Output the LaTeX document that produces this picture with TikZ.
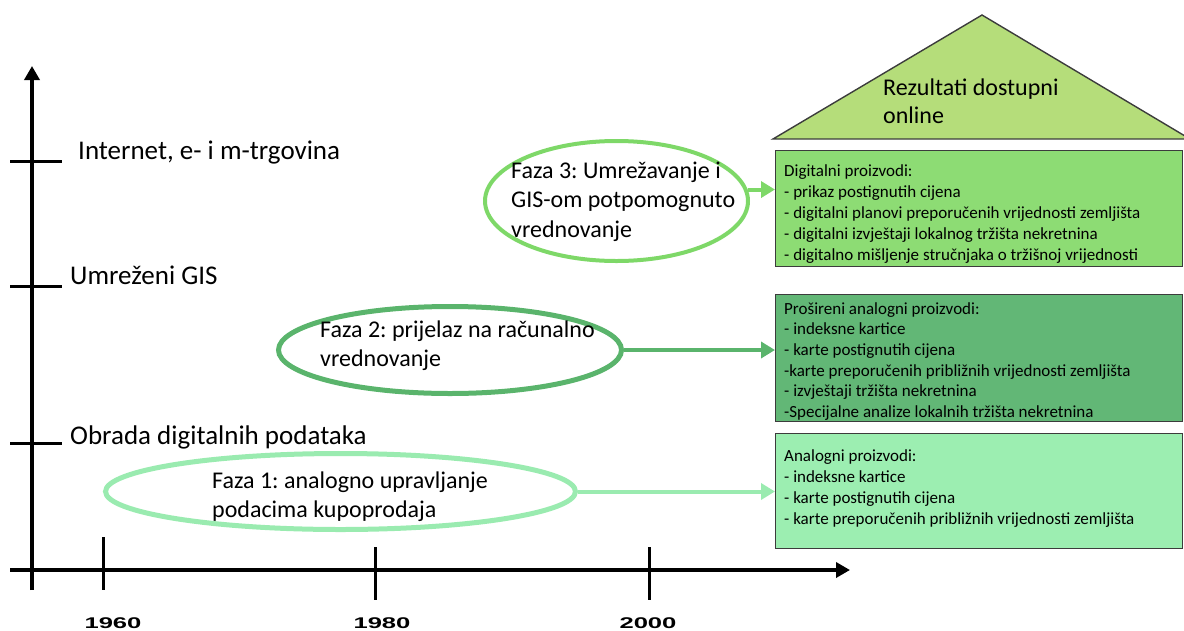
\documentclass[tikz,border=0pt]{standalone}
\usepackage{fontspec}
\setmainfont{Carlito}
\newfontfamily\yearfont{Liberation Sans}
\usetikzlibrary{shapes.geometric,arrows.meta}
\definecolor{roofgreen}{RGB}{181,221,122}
\definecolor{digigreen}{RGB}{141,220,116}
\definecolor{extgreen}{RGB}{98,183,118}
\definecolor{anagreen}{RGB}{156,238,177}
\definecolor{ringthree}{RGB}{126,216,104}
\definecolor{ringtwo}{RGB}{90,180,108}
\definecolor{ringone}{RGB}{154,235,176}
\definecolor{edgegray}{RGB}{60,60,60}
\frenchspacing

\begin{document}
% multi-line labels are placed by the baseline of their last line
\begin{tikzpicture}[x=1pt,y=-1pt,
  axis/.style={line width=4.5pt, -{Triangle[length=14pt,width=15pt]}},
  tick/.style={line width=3pt},
  levellabel/.style={anchor=base west, inner sep=0pt, font=\fontsize{27}{32}\selectfont},
  yearlabel/.style={anchor=base, inner sep=0pt, font=\yearfont\bfseries\fontsize{15.5}{18}\selectfont},
  phase/.style={ellipse, draw, inner sep=0pt},
  phasetext/.style={anchor=base west, inner sep=0pt, align=left, font=\fontsize{24}{29}\selectfont},
  product/.style={rectangle, draw=edgegray, line width=1.4pt, anchor=north west, minimum width=407pt, inner sep=0pt},
  producttext/.style={anchor=base west, inner sep=0pt, align=left, font=\fontsize{17}{21}\selectfont},
  feed/.style={line width=4pt, -{Triangle[length=14pt,width=16pt]}}
]
\useasboundingbox (0,0) rectangle (1184,630);

% roof over the product boxes
\coordinate (roofL) at (773,139);
\coordinate (roofT) at (982,15);
\coordinate (roofR) at (1190,139);
\filldraw[fill=roofgreen, draw=edgegray, line width=1.4pt] (roofL) -- (roofT) -- (roofR) -- cycle;
\node[phasetext, font=\fontsize{24}{28}\selectfont] (rooftext) at (883,123) {Rezultati dostupni\\online};

% product boxes
\node[product, fill=digigreen, minimum height=116pt] (b1) at (775,150) {};
\node[product, fill=extgreen, minimum height=127pt] (b2) at (775,294) {};
\node[product, fill=anagreen, minimum height=115pt] (b3) at (775,433) {};

\node[producttext] (t1) at (784,260) {Digitalni proizvodi:\\- prikaz postignutih cijena\\- digitalni planovi preporučenih vrijednosti zemljišta\\- digitalni izvještaji lokalnog tržišta nekretnina\\- digitalno mišljenje stručnjaka o tržišnoj vrijednosti};
\node[producttext, font=\fontsize{17}{20.7}\selectfont] (t2) at (784,417.5) {Prošireni analogni proizvodi:\\- indeksne kartice\\- karte postignutih cijena\\-karte preporučenih približnih vrijednosti zemljišta\\- izvještaji tržišta nekretnina\\-Specijalne analize lokalnih tržišta nekretnina};
\node[producttext] (t3) at (784,524) {Analogni proizvodi:\\- indeksne kartice\\- karte postignutih cijena\\- karte preporučenih približnih vrijednosti zemljišta};

% phases
\node[phase, draw=ringthree, line width=4pt, minimum width=263pt, minimum height=120pt] (p3) at (616.5,201) {};
\node[phase, draw=ringtwo, line width=5pt, minimum width=343pt, minimum height=87pt] (p2) at (450,350) {};
\node[phase, draw=ringone, line width=5pt, minimum width=470pt, minimum height=76pt] (p1) at (340.5,491.5) {};

\node[phasetext, font=\fontsize{24}{29.5}\selectfont] (p3text) at (511,237) {Faza 3: Umrežavanje i\\GIS-om potpomognuto\\vrednovanje};
\node[phasetext] (p2text) at (320,366) {Faza 2: prijelaz na računalno\\vrednovanje};
\node[phasetext] (p1text) at (212,517) {Faza 1: analogno upravljanje\\podacima kupoprodaja};

\draw[feed, draw=ringthree] (p3.5) -- (p3.5 -| b1.west);
\draw[feed, draw=ringtwo] (p2.east) -- (p2.east -| b2.west);
\draw[feed, draw=ringone] (p1.east) -- (p1.east -| b3.west);

% axes
\coordinate (vbot) at (32,590);
\coordinate (vtop) at (32,66);
\coordinate (hleft) at (10,570);
\coordinate (hright) at (850,570);
\draw[axis] (vbot) -- (vtop);
\draw[axis] (hleft) -- (hright);

\foreach \yy in {161,286,443} \draw[tick] (10,\yy) -- (62,\yy);
\draw[tick] (103,537) -- (103,590);
\draw[tick] (375,547) -- (375,600);
\draw[tick] (649,547) -- (649,600);

\node[levellabel] (l3) at (78,159) {Internet, e- i m-trgovina};
\node[levellabel] (l2) at (70,284) {Umreženi GIS};
\node[levellabel] (l1) at (70,444) {Obrada digitalnih podataka};

\node[yearlabel] (y1960) at (113,628) {\scalebox{1.65}[1]{1960}};
\node[yearlabel] (y1980) at (382,628) {\scalebox{1.65}[1]{1980}};
\node[yearlabel] (y2000) at (648,628) {\scalebox{1.65}[1]{2000}};
\end{tikzpicture}
\end{document}
